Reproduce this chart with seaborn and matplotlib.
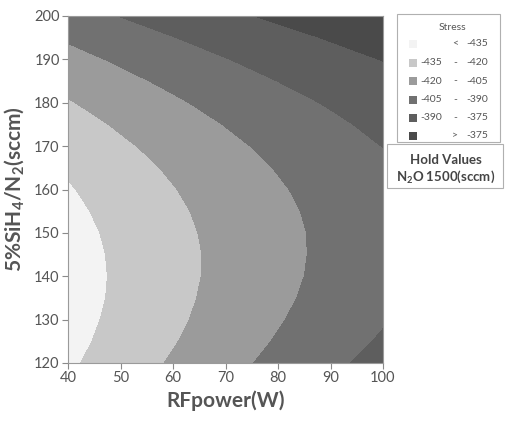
import numpy as np
import matplotlib
matplotlib.use("Agg")
import matplotlib.pyplot as plt
from matplotlib.patches import Rectangle
import seaborn as sns

# grid (stress held at N2O 1500 sccm)
rf_power = [40, 45, 50, 55, 60, 65, 70, 75, 80, 85, 90, 95, 100]
sih4_flow = [120, 125, 130, 135, 140, 145, 150, 155, 160,
             165, 170, 175, 180, 185, 190, 195, 200]
stress = [
    [-437.3, -432.5, -427.7, -423.0, -418.5, -414.0, -409.6, -405.3, -401.1, -397.0, -393.0, -389.1, -385.3],
    [-439.3, -434.6, -429.9, -425.3, -420.9, -416.5, -412.2, -408.0, -403.9, -399.9, -396.0, -392.2, -388.5],
    [-440.7, -436.0, -431.5, -427.0, -422.6, -418.4, -414.2, -410.1, -406.1, -402.2, -398.4, -394.7, -391.1],
    [-441.5, -436.9, -432.5, -428.1, -423.8, -419.6, -415.6, -411.6, -407.7, -403.9, -400.2, -396.6, -393.1],
    [-441.6, -437.2, -432.8, -428.6, -424.4, -420.3, -416.3, -412.4, -408.7, -405.0, -401.4, -397.8, -394.4],
    [-441.2, -436.8, -432.6, -428.4, -424.3, -420.4, -416.5, -412.7, -409.0, -405.4, -401.9, -398.5, -395.2],
    [-440.1, -435.9, -431.7, -427.7, -423.7, -419.8, -416.0, -412.3, -408.8, -405.3, -401.9, -398.5, -395.3],
    [-438.5, -434.3, -430.3, -426.3, -422.4, -418.7, -415.0, -411.4, -407.9, -404.5, -401.2, -398.0, -394.9],
    [-436.2, -432.2, -428.2, -424.3, -420.6, -416.9, -413.3, -409.8, -406.4, -403.1, -399.9, -396.8, -393.8],
    [-433.3, -429.4, -425.5, -421.8, -418.1, -414.5, -411.0, -407.6, -404.3, -401.1, -398.0, -395.0, -392.1],
    [-429.8, -426.0, -422.2, -418.6, -415.0, -411.5, -408.1, -404.8, -401.7, -398.6, -395.6, -392.6, -389.8],
    [-425.7, -422.0, -418.3, -414.8, -411.3, -407.9, -404.6, -401.4, -398.4, -395.4, -392.5, -389.6, -386.9],
    [-421.0, -417.4, -413.8, -410.4, -407.0, -403.7, -400.5, -397.4, -394.5, -391.6, -388.8, -386.0, -383.4],
    [-415.7, -412.2, -408.7, -405.3, -402.1, -398.9, -395.8, -392.8, -389.9, -387.1, -384.4, -381.8, -379.3],
    [-409.8, -406.3, -403.0, -399.7, -396.5, -393.5, -390.5, -387.6, -384.8, -382.1, -379.5, -377.0, -374.6],
    [-403.3, -399.9, -396.6, -393.5, -390.4, -387.4, -384.6, -381.8, -379.1, -376.5, -374.0, -371.6, -369.3],
    [-396.1, -392.9, -389.7, -386.6, -383.7, -380.8, -378.0, -375.3, -372.7, -370.2, -367.8, -365.5, -363.3],
]

levels = [-460, -435, -420, -405, -390, -375, -350]
legend_rows = [("", "<", "-435"), ("-435", "-", "-420"), ("-420", "-", "-405"),
               ("-405", "-", "-390"), ("-390", "-", "-375"), ("", ">", "-375")]
greys = ["#f3f3f3", "#c8c8c8", "#9b9b9b", "#717171", "#5e5e5e", "#4a4a4a"]

sns.set_theme(style="ticks")
plt.rcParams["font.family"] = ["Lato", "DejaVu Sans"]
plt.rcParams["mathtext.fontset"] = "custom"
plt.rcParams["mathtext.rm"] = "Lato"
plt.rcParams["mathtext.bf"] = "Lato:bold"
plt.rcParams["mathtext.default"] = "bf"

txt = "#555555"

fig = plt.figure(figsize=(5.06, 4.21), dpi=100)
ax = fig.add_axes([68 / 506, 58 / 421, 315 / 506, 347 / 421])

ax.contourf(rf_power, sih4_flow, np.array(stress), levels=levels, colors=greys)

ax.set_xlim(40, 100)
ax.set_ylim(120, 200)
ax.set_xticks(range(40, 101, 10))
ax.set_yticks(range(120, 201, 10))
ax.tick_params(axis="both", direction="out", length=4, width=0.8,
               color="#8a8a8a", labelsize=10.5, labelcolor=txt, pad=2)
for sp in ax.spines.values():
    sp.set_color("#9a9a9a")
    sp.set_linewidth(0.8)

ax.set_xlabel("RFpower(W)", fontsize=15, fontweight="bold", color=txt, labelpad=4)
ax.set_ylabel("5%SiH$_4$/N$_2$(sccm)", fontsize=15, fontweight="bold", color=txt, labelpad=6)

# legend box, drawn in pixel-ish figure coordinates
W, H = 506, 421
def fx(px):
    return px / W
def fy(py):
    return 1 - py / H

fig.patches.append(Rectangle((fx(397), fy(142)), 103 / W, 128 / H,
                             transform=fig.transFigure, facecolor="white",
                             edgecolor="#b0b0b0", linewidth=0.8))
fig.text(fx(452), fy(28), "Stress", fontsize=7.5, color=txt, ha="center", va="center")
row_y = [44, 62.5, 81, 99.5, 118, 136]
for (lo, sep, hi), col, py in zip(legend_rows, greys, row_y):
    fig.patches.append(Rectangle((fx(409), fy(py + 4)), 8 / W, 8 / H,
                                 transform=fig.transFigure, facecolor=col,
                                 edgecolor="none"))
    if lo:
        fig.text(fx(442), fy(py), lo, fontsize=7.5, color=txt, ha="right", va="center")
    fig.text(fx(455), fy(py), sep, fontsize=7.5, color=txt, ha="center", va="center")
    fig.text(fx(488), fy(py), hi, fontsize=7.5, color=txt, ha="right", va="center")

fig.patches.append(Rectangle((fx(387), fy(188)), 116 / W, 44 / H,
                             transform=fig.transFigure, facecolor="white",
                             edgecolor="#b0b0b0", linewidth=0.8))
fig.text(fx(446), fy(160), "Hold Values", fontsize=9.5, fontweight="bold",
         color="#444444", ha="center", va="center")
fig.text(fx(446), fy(177), "N$_2$O 1500(sccm)", fontsize=9.5, fontweight="bold",
         color="#444444", ha="center", va="center")

fig.savefig("out.png", dpi=100)
